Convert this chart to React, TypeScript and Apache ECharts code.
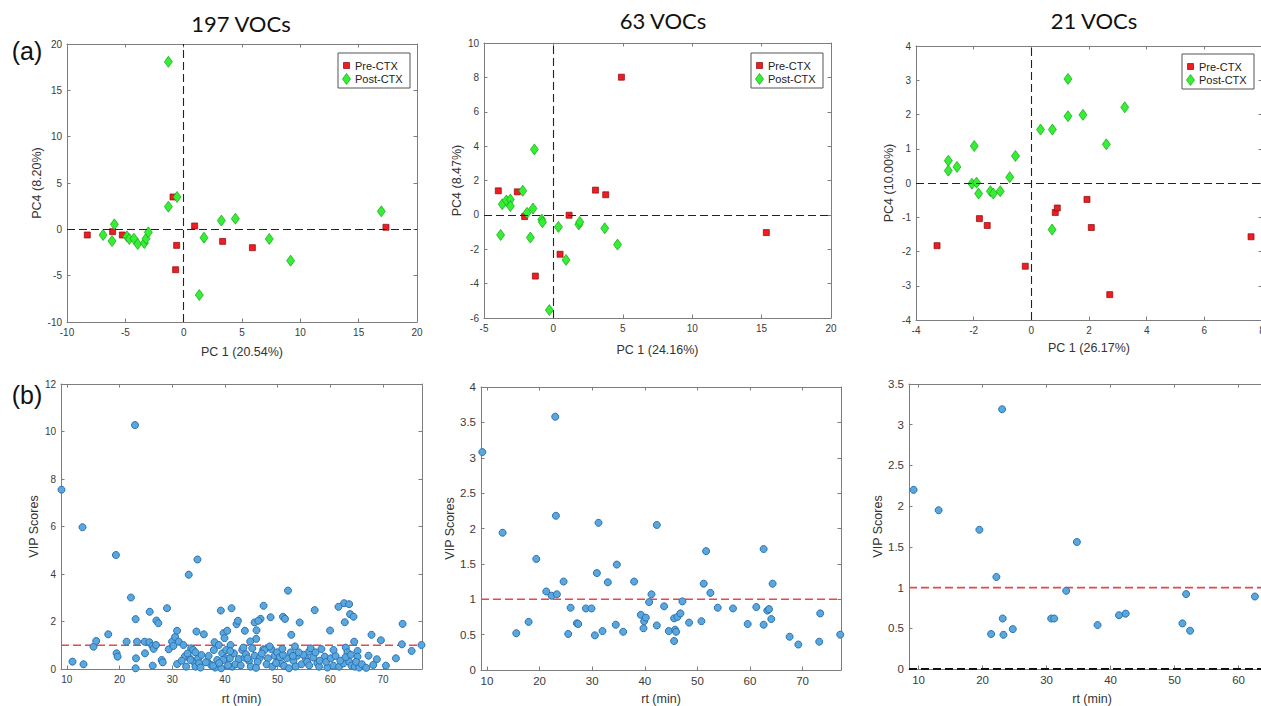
import React, { useEffect, useRef } from 'react';
import * as echarts from 'echarts';

// ---------- data ----------
const titles = ['197 VOCs', '63 VOCs', '21 VOCs'];
const pcXNames = ['PC 1 (20.54%)', 'PC 1 (24.16%)', 'PC 1 (26.17%)'];
const pcYNames = ['PC4 (8.20%)', 'PC4 (8.47%)', 'PC4 (10.00%)'];
const groupNames = ['Pre-CTX', 'Post-CTX'];
const rtTicks = [10, 20, 30, 40, 50, 60, 70];

const pre197 = [[-8.26,-0.61],[-6.09,-0.25],[-5.26,-0.61],[-0.91,3.49],[-0.6,-1.73],[-0.69,-4.36],[0.94,0.36],[3.34,-1.3],[5.89,-1.98],[17.34,0.22]];
const post197 = [[-1.31,18.08],[-0.57,3.49],[-1.31,2.45],[-5.94,0.54],[-6.91,-0.61],[-6.14,-1.26],[-4.86,-0.76],[-4.66,-1.04],[-4.26,-1.01],[-3.94,-1.58],[-3.37,-1.48],[-3.23,-1.01],[-3.03,-0.32],[1.34,-7.09],[1.74,-0.9],[3.23,0.94],[4.43,1.15],[7.34,-1.04],[9.17,-3.38],[16.94,1.94]];

const pre63 = [[-3.97,1.4],[-2.6,1.34],[-2.07,-0.1],[-1.3,-3.56],[1.13,-0.02],[0.48,-2.29],[3.03,1.44],[3.77,1.17],[4.9,8.01],[15.34,-1.03]];
const post63 = [[-1.37,3.81],[-2.21,1.4],[-3.68,0.62],[-3.39,0.84],[-3.1,0.89],[-3.1,0.51],[-1.9,0.12],[-1.47,0.37],[-0.84,-0.27],[-0.79,-0.43],[-3.8,-1.17],[-1.66,-1.32],[-0.29,-5.54],[0.36,-0.7],[0.91,-2.62],[1.83,-0.56],[1.9,-0.41],[3.7,-0.78],[4.62,-1.73]];

const pre21 = [[-3.27,-1.83],[-1.8,-1.04],[-1.53,-1.24],[-0.21,-2.43],[0.83,-0.86],[0.9,-0.73],[1.93,-0.48],[2.08,-1.3],[2.72,-3.26],[7.62,-1.57]];
const post21 = [[-2.88,0.65],[-2.88,0.36],[-2.58,0.47],[-1.98,1.08],[-2.06,-0.02],[-1.9,0.01],[-1.83,-0.31],[-1.42,-0.24],[-1.32,-0.31],[-1.08,-0.24],[-0.75,0.17],[-0.55,0.79],[0.32,1.56],[0.73,1.56],[1.27,3.04],[1.27,1.95],[1.79,1.99],[3.24,2.21],[2.6,1.13],[0.72,-1.36]];

const vip197 = [
  [8.99,7.55],[11.08,0.31],[12.98,5.97],[13.17,0.2],[15.07,0.94],[15.58,1.18],[17.86,1.46],[19.32,4.8],[19.45,0.66],[19.64,0.52],
  [21.35,1.15],[22.17,3.01],[22.94,10.27],[23.06,2.1],[23.13,0.45],[23.06,0.03],[23.32,1.15],[24.77,1.15],[24.84,0.66],[25.73,2.41],
  [25.66,1.13],[26.23,0.97],[26.3,0.14],[26.49,0.85],[26.93,1.01],[27.0,2.04],[27.37,1.93],[28.01,0.38],[28.2,0.28],[29.02,2.56],
  [29.34,0.83],[29.97,1.15],[30.23,0.97],[30.55,1.35],[30.93,1.61],[30.93,0.21],[31.24,1.15],[32.13,1.01],[32.38,0.52],[32.64,0.1],
  [33.14,3.97],[33.34,0.45],[33.59,0.87],[33.97,0.8],[34.1,0.31],[34.41,0.1],[34.6,1.58],[34.79,4.61],[34.92,0.45],[35.11,0.24],
  [35.36,0.06],[35.55,0.59],[36.0,1.46],[36.63,0.31],[37.39,0.17],[38.03,1.13],[37.9,0.8],[38.15,0.06],[38.85,1.01],[39.23,2.46],
  [39.3,0.03],[39.49,0.66],[39.74,1.51],[39.93,1.3],[40.12,0.45],[40.25,0.8],[40.44,1.61],[41.07,1.01],[41.26,2.56],[40.95,0.45],
  [41.39,0.1],[41.71,0.66],[42.02,0.2],[42.21,1.89],[42.47,2.03],[33.46,0.38],[36.38,0.28],[37.77,0.13],[38.54,0.38],[39.68,0.38],
  [42.66,0.42],[45.63,1.96],[46.77,2.11],[46.33,2.03],[48.67,2.18],[51.02,2.2],[51.4,2.11],[54.19,1.96],[51.97,3.3],[47.34,2.66],
  [43.79,1.61],[46.0,1.63],[45.94,1.27],[44.8,1.16],[47.28,0.83],[52.6,1.44],[53.3,0.95],[43.29,0.8],[43.73,0.48],[44.56,0.34],
  [45.19,0.87],[45.64,0.56],[46.65,0.48],[47.54,0.8],[48.17,0.45],[48.81,0.84],[49.44,0.56],[50.08,0.34],[50.58,0.24],[51.22,0.13],
  [51.72,0.45],[52.17,0.03],[53.0,0.34],[53.75,0.56],[54.52,0.2],[55.34,0.45],[55.97,0.73],[43.0,0.15],[44.0,0.62],[44.9,0.1],
  [46.2,0.3],[47.0,0.65],[47.9,0.2],[49.0,0.1],[49.9,0.7],[50.4,0.5],[51.0,0.6],[52.5,0.7],[53.4,0.1],[54.9,0.6],
  [55.6,0.3],[62.62,2.77],[63.57,2.73],[61.55,2.62],[63.76,2.31],[64.4,2.2],[62.75,1.97],[57.04,2.48],[59.96,1.62],[73.72,1.9],
  [67.82,1.44],[69.6,1.21],[64.53,1.15],[73.59,1.04],[77.3,1.01],[75.43,0.76],[58.31,0.84],[56.28,0.87],[62.94,0.9],[63.26,0.7],
  [65.16,0.76],[65.16,0.52],[67.25,0.56],[72.45,0.45],[68.84,0.41],[70.55,0.14],[68.14,0.17],[58.95,0.52],[56.79,0.48],[57.55,0.24],
  [57.87,0.1],[59.45,0.06],[60.59,0.14],[61.67,0.1],[62.5,0.24],[63.57,0.31],[64.02,0.14],[64.65,0.1],[65.48,0.06],[31.8,0.35],
  [32.9,0.65],[34.4,0.7],[36.9,0.55],[38.9,0.25],[40.6,0.15],[41.0,0.75],[43.5,0.9],[44.3,0.45],[45.9,0.05],[48.5,0.95],
  [49.7,0.25],[50.9,0.85],[52.9,0.55],[54.0,0.7],[56.0,0.15],[57.2,0.7],[58.0,0.35],[59.2,0.3],[60.1,0.45],[61.0,0.55],
  [61.9,0.35],[62.9,0.5],[63.9,0.6],[64.9,0.3],[66.0,0.2],[66.8,0.05],[60.6,0.8]
];

const vip63 = [
  [9.11,3.08],[12.97,1.94],[15.57,0.52],[17.91,0.68],[19.37,1.57],[21.27,1.11],[22.28,1.05],[22.97,3.58],[23.1,2.18],[23.29,1.07],
  [24.56,1.25],[25.44,0.51],[25.89,0.88],[27.09,0.66],[27.34,0.65],[28.8,0.87],[29.87,0.87],[30.51,0.49],[30.89,1.37],[31.2,2.08],
  [31.96,0.55],[32.97,1.24],[34.49,0.64],[34.68,1.49],[35.89,0.54],[37.97,1.25],[39.24,0.78],[39.75,0.59],[39.87,0.69],[40.19,0.74],
  [40.82,0.96],[41.27,1.07],[42.28,0.63],[42.28,2.05],[43.67,0.9],[44.56,0.55],[45.57,0.73],[45.57,0.41],[45.76,0.57],[45.95,0.54],
  [46.2,0.75],[46.77,0.8],[47.15,0.97],[48.42,0.67],[50.76,0.69],[51.2,1.22],[51.65,1.68],[52.47,1.09],[53.86,0.88],[56.77,0.87],
  [59.56,0.65],[61.2,0.89],[62.59,1.71],[62.59,0.64],[63.29,0.84],[63.61,0.86],[64.05,0.72],[64.3,1.22],[67.53,0.47],[69.18,0.36],
  [73.16,0.4],[73.35,0.8],[77.15,0.5]
];

const vip21 = [
  [9.22,2.2],[13.13,1.95],[19.5,1.71],[21.33,0.43],[22.16,1.13],[23.05,3.19],[23.15,0.62],[23.26,0.42],[24.72,0.49],[30.72,0.62],
  [31.19,0.62],[33.07,0.96],[34.74,1.56],[37.97,0.54],[41.32,0.66],[42.36,0.68],[51.23,0.56],[51.81,0.92],[52.43,0.47],[62.56,0.89]
];

const vipThreshold = 1;
const zeroLevel = 0;

// ---------- layout / style ----------
const FONT = '"Liberation Sans", Arial, sans-serif';
const AXIS_COLOR = '#7d7d7d';
const LABEL_COLOR = '#3a3a3a';
const RED = '#ee1d23';
const RED_EDGE = '#8a0a0a';
const GREEN = '#35ef35';
const GREEN_EDGE = '#14a014';
const BLUE = '#5aa7de';
const BLUE_EDGE = '#2a72b2';
const THRESH_RED = '#e8474b';

const grids = [
  { left: 67, top: 44, width: 350, height: 278 },
  { left: 484, top: 43, width: 347, height: 275 },
  { left: 916, top: 46, width: 346, height: 274 },
  { left: 61, top: 384, width: 361, height: 286 },
  { left: 481, top: 387, width: 360, height: 285 },
  { left: 909, top: 384, width: 366, height: 285 },
];

type AxSpec = { min: number; max: number; interval?: number; custom?: number[]; name: string; gap: number; font: number };

const xSpecs: AxSpec[] = [
  { min: -10, max: 20, interval: 5, name: pcXNames[0], gap: 23, font: 10 },
  { min: -5, max: 20, interval: 5, name: pcXNames[1], gap: 25, font: 10 },
  { min: -4, max: 8, interval: 2, name: pcXNames[2], gap: 21, font: 10 },
  { min: 8.9, max: 77.4, custom: rtTicks, name: 'rt (min)', gap: 23, font: 10 },
  { min: 8.86, max: 77.3, custom: rtTicks, name: 'rt (min)', gap: 22, font: 11.5 },
  { min: 8.5, max: 65.7, custom: rtTicks.filter((v) => v <= 65), name: 'rt (min)', gap: 23, font: 11.5 },
];
const ySpecs: AxSpec[] = [
  { min: -10, max: 20, interval: 5, name: pcYNames[0], gap: 24, font: 10 },
  { min: -6, max: 10, interval: 2, name: pcYNames[1], gap: 20, font: 10 },
  { min: -4, max: 4, interval: 1, name: pcYNames[2], gap: 21, font: 10 },
  { min: 0, max: 12, interval: 2, name: 'VIP Scores', gap: 17, font: 10 },
  { min: 0, max: 4, interval: 0.5, name: 'VIP Scores', gap: 23, font: 11.5 },
  { min: 0, max: 3.5, interval: 0.5, name: 'VIP Scores', gap: 22, font: 11.5 },
];

function makeAxis(spec: AxSpec, gridIndex: number, position: string, primary: boolean) {
  const a: any = {
    type: 'value',
    gridIndex,
    position,
    min: spec.min,
    max: spec.max,
    splitLine: { show: false },
    axisLine: { show: true, onZero: false, lineStyle: { color: AXIS_COLOR, width: 1 } },
    axisTick: { show: true, inside: true, length: 3.5, lineStyle: { color: AXIS_COLOR, width: 1 } },
    axisLabel: {
      show: primary,
      color: LABEL_COLOR,
      fontSize: spec.font,
      fontFamily: FONT,
      margin: 5,
    },
  };
  if (spec.interval != null) a.interval = spec.interval;
  if (spec.custom) {
    a.axisTick.customValues = spec.custom;
    a.axisLabel.customValues = spec.custom;
  }
  if (primary) {
    a.name = spec.name;
    a.nameLocation = 'middle';
    a.nameGap = spec.gap;
    a.nameTextStyle = { color: '#333', fontSize: 12.5, fontFamily: FONT };
  }
  return a;
}

const xAxes: any[] = [];
const yAxes: any[] = [];
grids.forEach((_, i) => {
  xAxes.push(makeAxis(xSpecs[i], i, 'bottom', true));
  xAxes.push(makeAxis(xSpecs[i], i, 'top', false));
  yAxes.push(makeAxis(ySpecs[i], i, 'left', true));
  yAxes.push(makeAxis(ySpecs[i], i, 'right', false));
});

const pcaSets = [
  [pre197, post197],
  [pre63, post63],
  [pre21, post21],
];
const vipSets = [vip197, vip63, vip21];

// horizontal reference line across a VIP panel, drawn by the axes' own scales
function refLine(axisIdx: number, level: number, color: string, width: number, dash: number[], name: string) {
  const spec = xSpecs[axisIdx / 2];
  return {
    type: 'line',
    name,
    xAxisIndex: axisIdx,
    yAxisIndex: axisIdx,
    data: [[spec.min, level], [spec.max, level]],
    symbol: 'none',
    silent: true,
    z: 1,
    lineStyle: { color, width, type: dash, opacity: 1 },
  };
}

const series: any[] = [];
pcaSets.forEach(([pre, post], i) => {
  series.push({
    type: 'scatter',
    name: groupNames[0],
    xAxisIndex: 2 * i,
    yAxisIndex: 2 * i,
    data: pre,
    symbol: 'rect',
    symbolSize: 6,
    itemStyle: { color: RED, borderColor: RED_EDGE, borderWidth: 0.7, opacity: 1 },
    markLine: {
      silent: true,
      symbol: 'none',
      label: { show: false },
      lineStyle: { color: '#222', type: [8, 4], width: 1.1 },
      data: [{ xAxis: 0 }, { yAxis: 0 }],
    },
  });
  series.push({
    type: 'scatter',
    name: groupNames[1],
    xAxisIndex: 2 * i,
    yAxisIndex: 2 * i,
    data: post,
    symbol: 'diamond',
    symbolSize: [8, 11],
    itemStyle: { color: GREEN, borderColor: GREEN_EDGE, borderWidth: 0.7, opacity: 1 },
  });
});
vipSets.forEach((data, j) => {
  const gi = 3 + j;
  series.push(refLine(2 * gi, vipThreshold, THRESH_RED, j === 2 ? 1.8 : 1.3, [8, 4], 'VIP = 1'));
  if (j === 2) series.push(refLine(2 * gi, zeroLevel, '#111', 2, [8, 4], 'zero'));
  series.push({
    type: 'scatter',
    name: 'VIP ' + titles[j],
    xAxisIndex: 2 * gi,
    yAxisIndex: 2 * gi,
    data,
    symbol: 'circle',
    symbolSize: 7,
    z: 3,
    itemStyle: { color: BLUE, borderColor: BLUE_EDGE, borderWidth: 1, opacity: 1 },
  });
});

function legendBox(x: number, y: number) {
  return [
    { type: 'rect', z: 100, shape: { x, y, width: 72, height: 35 }, style: { fill: '#fff', stroke: '#555', lineWidth: 1 } },
    { type: 'rect', z: 101, shape: { x: x + 5.5, y: y + 9.5, width: 6, height: 6 }, style: { fill: RED, stroke: RED_EDGE, lineWidth: 0.7 } },
    {
      type: 'polygon', z: 101,
      shape: { points: [[x + 8.5, y + 20.5], [x + 12.5, y + 26], [x + 8.5, y + 31.5], [x + 4.5, y + 26]] },
      style: { fill: GREEN, stroke: GREEN_EDGE, lineWidth: 0.7 },
    },
    { type: 'text', z: 101, x: x + 17, y: y + 12.5, style: { text: groupNames[0], fill: '#222', fontSize: 11, fontFamily: FONT, verticalAlign: 'middle', align: 'left' } },
    { type: 'text', z: 101, x: x + 17, y: y + 26, style: { text: groupNames[1], fill: '#222', fontSize: 11, fontFamily: FONT, verticalAlign: 'middle', align: 'left' } },
  ];
}

const titlePos = [[241, 23], [663, 20], [1094, 20]];

const graphic: any[] = [
  ...titles.map((t, i) => ({
    type: 'text', x: titlePos[i][0], y: titlePos[i][1],
    style: { text: t, fill: '#111', fontSize: 22, fontFamily: 'Lato, "Open Sans", sans-serif', align: 'center', verticalAlign: 'middle' },
  })),
  { type: 'text', x: 27, y: 51, style: { text: '(a)', fill: '#111', fontSize: 25, fontFamily: FONT, align: 'center', verticalAlign: 'middle' } },
  { type: 'text', x: 27, y: 395, style: { text: '(b)', fill: '#111', fontSize: 25, fontFamily: FONT, align: 'center', verticalAlign: 'middle' } },
  ...legendBox(338, 53),
  ...legendBox(751, 53),
  ...legendBox(1182, 54),
];

export default function App() {
  const ref = useRef<HTMLDivElement>(null);
  useEffect(() => {
    if (!ref.current) return;
    const chart = echarts.init(ref.current, null, { renderer: 'svg' });
    chart.setOption({
      animation: false,
      backgroundColor: '#ffffff',
      grid: grids,
      xAxis: xAxes,
      yAxis: yAxes,
      series,
      graphic,
    });
    return () => chart.dispose();
  }, []);
  return (
    <div
      style={{ position: 'absolute', left: 0, top: 0, width: 1261, height: 706, overflow: 'hidden', background: '#fff' }}
    >
      <div ref={ref} style={{ position: 'absolute', left: 0, top: 0, width: 1300, height: 706 }} />
    </div>
  );
}
